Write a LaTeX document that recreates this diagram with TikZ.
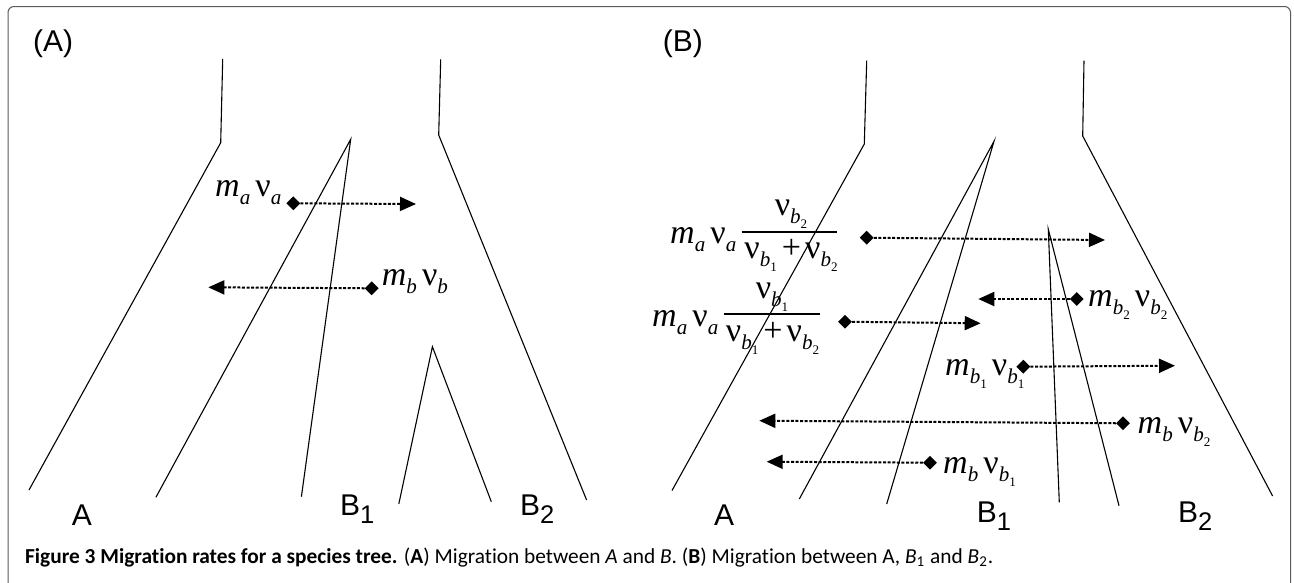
\documentclass[tikz,border=0pt]{standalone}
\usepackage{fontspec}
\usepackage{graphicx}
\setmainfont{Liberation Sans}
\newfontfamily\mfont{Liberation Serif}
\newfontfamily\capfont[Ligatures=NoCommon]{Carlito}
\usetikzlibrary{arrows.meta,shapes.geometric}
\newcommand{\sbs}[1]{\raisebox{-0.24em}{\scalebox{0.62}{#1}}}
\newcommand{\mm}[1]{\textit{m}\sbs{\textit{#1}}}
\newcommand{\nn}[1]{ν\sbs{#1}}
\newcommand{\bb}[1]{\textit{b}\sbs{#1}}
\newcommand{\pls}{\hspace{0.15em}+\hspace{0.12em}}
\newcommand{\lsub}[1]{\raisebox{-0.28em}{\scalebox{0.85}{#1}}}
\begin{document}
\begin{tikzpicture}[x=1pt,y=-1pt,
  tree/.style={line width=1.1pt, black},
  mig/.style={line width=2pt, dash pattern=on 3pt off 1.6pt, -{Triangle[length=16pt,width=14pt]}},
  dia/.style={diamond, fill=black, inner sep=0pt, minimum size=14pt},
  lab/.style={font=\fontsize{30}{32}\selectfont, inner sep=0pt, anchor=base west},
  mth/.style={font=\mfont\fontsize{34}{36}\selectfont, inner sep=0pt},
  frm/.style={line width=1pt, draw={rgb,255:red,90;green,90;blue,90}}]
\useasboundingbox (0,0) rectangle (1294,582);
\clip (0,0) rectangle (1294,582);
\fill[white] (0,0) rectangle (1294,582);
\draw[frm, rounded corners=6pt] (8,6.5) rectangle (1290.5,600);

% ---------- panel A ----------
\node[lab] (tA) at (33,51.7) {(A)};
\draw[tree] (222.7,59) -- (220.7,142.7) -- (29,490);
\draw[tree] (440.7,59.3) -- (438.7,135) -- (586.6,500);
\coordinate (a1) at (350.7,139.3);
\draw[tree] (155.9,497.3) -- (a1) -- (301.4,496.7);
\coordinate (a2) at (432.4,346.7);
\draw[tree] (398.8,504) -- (a2) -- (491.3,501.7);
\node[lab] (lA) at (71.7,525) {A};
\node[lab] (lB1) at (340,515) {B\lsub{1}};
\node[lab] (lB2) at (520,515) {B\lsub{2}};

\node[mth, anchor=base west] (ma) at (215,196.7) {\mm{a}\hspace{0.15em}\nn{\textit{a}}};
\node[dia] (da1) at (293.3,203.3) {};
\coordinate (ta1) at (416,204);
\draw[mig] (da1) -- (ta1);
\node[mth, anchor=base west] (mb) at (381.7,285) {\mm{b}\hspace{0.15em}\nn{\textit{b}}};
\node[dia] (da2) at (371.7,288.3) {};
\coordinate (ta2) at (208.3,287.3);
\draw[mig] (da2) -- (ta2);

% ---------- panel B ----------
\node[lab] (tB) at (662.7,51.7) {(B)};
\draw[tree] (866.7,60.7) -- (864.3,144) -- (672,490.5);
\draw[tree] (1084,60.7) -- (1082.7,136) -- (1272.6,496);
\coordinate (b1) at (994,141.3);
\draw[tree] (799.3,499) -- (b1) -- (886.7,504);
\coordinate (b2) at (1048.3,229.3);
\draw[tree] (1059.3,502.3) -- (b2) -- (1119,505.7);
\node[lab] (mA) at (714,525) {A};
\node[lab] (mB1) at (976.7,522) {B\lsub{1}};
\node[lab] (mB2) at (1178,522) {B\lsub{2}};

% fraction 1
\node[mth, anchor=base west] (f1l) at (670,243.3) {\mm{a}\hspace{0.15em}\nn{\textit{a}}};
\node[mth, anchor=base] (f1n) at (791,215) {\nn{\bb{2}}};
\node[mth, anchor=base] (f1d) at (791,258.3) {\nn{\bb{1}}\pls\nn{\bb{2}}};
\draw[line width=1.8pt] (741.7,231.7) -- (836.7,231.7);
% fraction 2
\node[mth, anchor=base west] (f2l) at (652,326.7) {\mm{a}\hspace{0.15em}\nn{\textit{a}}};
\node[mth, anchor=base] (f2n) at (772,298.3) {\nn{\bb{1}}};
\node[mth, anchor=base] (f2d) at (772.5,341.7) {\nn{\bb{1}}\pls\nn{\bb{2}}};
\draw[line width=1.8pt] (724,314) -- (820,314);

\node[dia] (db1) at (866.7,237.7) {};
\coordinate (tb1) at (1105,240);
\draw[mig] (db1) -- (tb1);
\node[dia] (db2) at (845,321.7) {};
\coordinate (tb2) at (980.7,323.3);
\draw[mig] (db2) -- (tb2);

\node[dia] (db3) at (1076.7,299) {};
\coordinate (tb3) at (978.3,299);
\draw[mig] (db3) -- (tb3);
\node[mth, anchor=base west] (l3) at (1088,306.7) {\textit{m}\sbs{\bb{2}}\hspace{0.15em}\nn{\bb{2}}};

\node[dia] (db4) at (1023.3,366.7) {};
\coordinate (tb4) at (1175,365.7);
\draw[mig] (db4) -- (tb4);
\node[mth, anchor=base west] (l4) at (945,375) {\textit{m}\sbs{\bb{1}}\hspace{0.15em}\nn{\bb{1}}};

\node[dia] (db5) at (1123,423.3) {};
\coordinate (tb5) at (759.3,420.7);
\draw[mig] (db5) -- (tb5);
\node[mth, anchor=base west] (l5) at (1137.5,433) {\mm{b}\hspace{0.15em}\nn{\bb{2}}};

\node[dia] (db6) at (930,462.7) {};
\coordinate (tb6) at (766.7,461.7);
\draw[mig] (db6) -- (tb6);
\node[mth, anchor=base west] (l6) at (943,473.3) {\mm{b}\hspace{0.15em}\nn{\bb{1}}};

% caption
\node[anchor=base west, inner sep=0pt] (cap) at (25,563) {\resizebox{968pt}{!}{\capfont\textbf{Figure 3 Migration rates for a species tree.} (\textbf{A}) Migration between \textit{A} and \textit{B}. (\textbf{B}) Migration between A, \textit{B}\textsubscript{1} and \textit{B}\textsubscript{2}.}};
\end{tikzpicture}
\end{document}
